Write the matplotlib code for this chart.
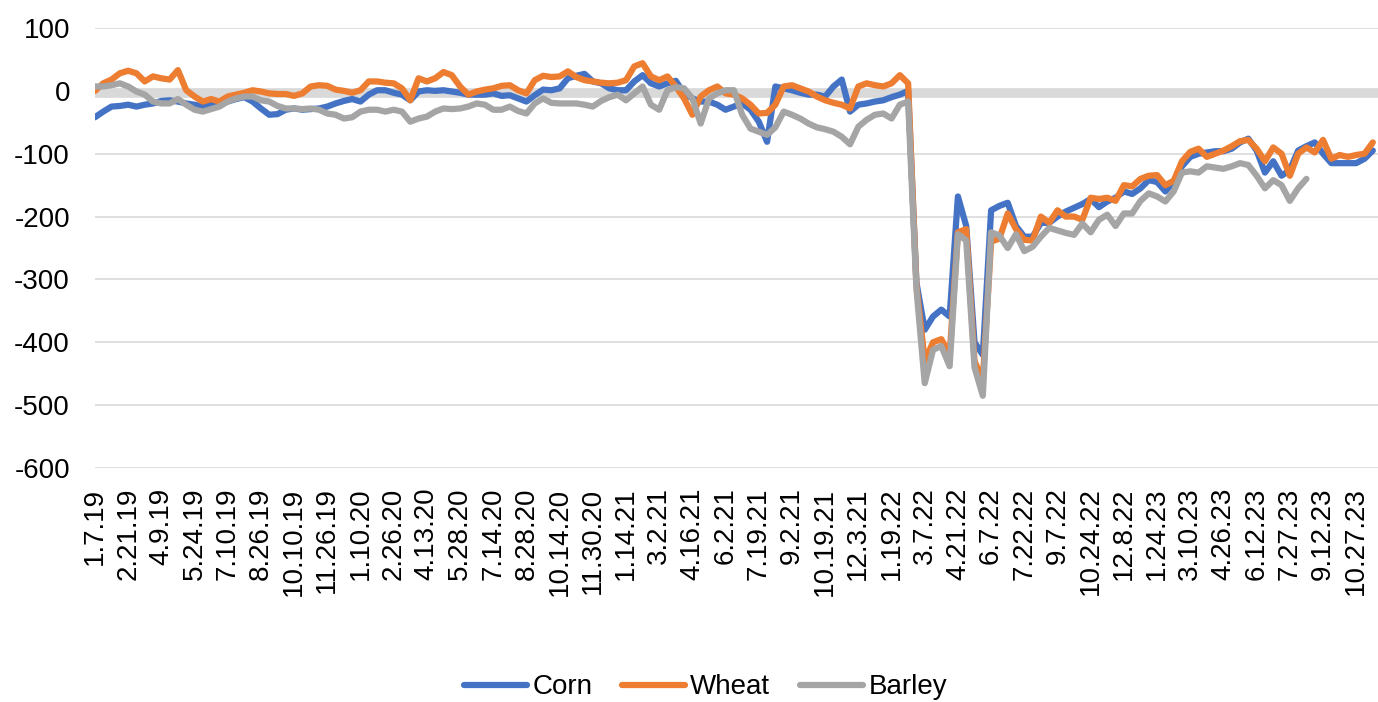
import numpy as np
import matplotlib
matplotlib.use("Agg")
import matplotlib.pyplot as plt

plt.rcParams['font.family'] = ['Liberation Sans', 'DejaVu Sans']

# x-axis date labels (one label every 32 trading days)
tick_labels = ["1.7.19", "2.21.19", "4.9.19", "5.24.19", "7.10.19", "8.26.19", "10.10.19",
               "11.26.19", "1.10.20", "2.26.20", "4.13.20", "5.28.20", "7.14.20", "8.28.20",
               "10.14.20", "11.30.20", "1.14.21", "3.2.21", "4.16.21", "6.2.21", "7.19.21",
               "9.2.21", "10.19.21", "12.3.21", "1.19.22", "3.7.22", "4.21.22", "6.7.22",
               "7.22.22", "9.7.22", "10.24.22", "12.8.22", "1.24.23", "3.10.23", "4.26.23",
               "6.12.23", "7.27.23", "9.12.23", "10.27.23"]
label_every = 32
sample_every = 8   # values read every 8 trading days
n_days = 1237

# values
corn = [-42, -33, -25, -24, -22, -25, -22, -20, -16, -15, -17, -20, -22, -25, -22,
        -20, -17, -13, -10, -17, -28, -38, -37, -30, -28, -30, -29, -28, -25, -20,
        -16, -13, -17, -6, 1, 1, -3, -6, -15, -1, 1, 0, 1, -1, -3, -6, -6, -6, -4,
        -8, -7, -12, -17, -7, 2, 1, 4, 20, 24, 27, 15, 12, 4, 1, 1, 15, 25, 12, 7,
        12, 16, -4, -12, -17, -17, -22, -30, -25, -20, -30, -49, -81, 7, 4, 1, -3, -6,
        -6, -9, 7, 18, -33, -22, -20, -17, -15, -10, -6, 0,
        -305, -380, -359, -348, -359, -168, -215, -400, -420, -190, -183,
        -178, -215, -232, -232, -210, -210, -200, -192, -186, -180, -172, -185, -176,
        -170, -160, -164, -155, -142, -145, -160, -145, -120, -105, -100, -98, -96,
        -96, -92, -82, -76, -95, -130, -112, -135, -126, -95, -88, -82, -100, -115,
        -115, -115, -115, -108, -95]

wheat = [0, 12, 18, 28, 32, 28, 15, 23, 20, 18, 33, 1, -9, -17, -13, -17, -9, -6, -3,
         1, -1, -4, -5, -5, -8, -4, 7, 9, 8, 2, 0, -3, 1, 15, 15, 13, 12, 4, -15, 20,
         15, 20, 30, 25, 7, -6, -1, 2, 4,
         8, 9, 1, -4, 17, 24, 22, 23, 31, 22, 17, 15, 13, 12, 13, 17, 39, 44, 23, 17,
         23, 7, -12, -38, -9, 1, 7, -4, -6, -12, -22, -36, -35, -22, 7, 9, 4, -1, -9,
         -15, -19, -22, -28, 7, 12, 9, 7, 12, 25, 12,
         -310, -430, -400, -395, -420, -225, -220, -430, -460, -240, -235,
         -195, -220, -237, -238, -200, -210, -190, -200, -200, -205, -170, -172, -170,
         -175, -150, -152, -140, -135, -134, -150, -143, -112, -97, -92, -105, -100,
         -95, -88, -80, -78, -92, -112, -90, -100, -135, -100, -90, -98, -78, -108,
         -102, -105, -102, -100, -82]

barley = [7, 7, 9, 12, 7, -1, -6, -17, -20, -20, -13, -22, -30, -33, -29, -25, -17,
          -12, -9, -9, -15, -17, -24, -28, -28, -29, -28, -30, -36, -38, -44, -42, -33,
          -30, -30, -33, -30, -33, -49, -44, -41, -33, -28, -29, -28, -25, -20, -22, -30,
          -30, -25, -32, -36, -20, -12, -19, -20, -20, -20, -22, -25, -16, -10, -6, -15,
          -4, 7, -22, -30, 1, 6, 4, -12, -52, -12, -4, 1, 1, -38, -60, -65, -70, -58,
          -33, -38, -44, -52, -58, -61, -65, -73, -85, -57, -46, -38, -36, -44, -22, -17,
          -315, -465, -412, -406, -438, -228, -238, -440, -485, -225, -230,
          -250, -228, -255, -248, -232, -218, -222, -226, -229, -211, -225, -205, -197,
          -215, -195, -195, -175, -163, -168, -176, -160, -130, -128, -130, -120, -122,
          -124, -120, -115, -118, -135, -155, -142, -150, -175, -155, -140]

y_ticks = [-600, -500, -400, -300, -200, -100, 0, 100]
y_tick_labels = ["-600", "-500", "-400", "-300", "-200", "-100", "0", "100"]

fig = plt.figure(figsize=(13.78, 7.02), dpi=100)
ax = fig.add_axes([0.0689, 0.3333, 0.9311, 0.6268])

# thick grey horizontal axis line near zero
ax.axhline(-4, color='#D9D9D9', linewidth=7, zorder=1)

series = [("Corn", corn, '#4472C4'), ("Wheat", wheat, '#ED7D31'), ("Barley", barley, '#A5A5A5')]
for name, vals, col in series:
    x = np.arange(len(vals)) * sample_every
    ax.plot(x, vals, color=col, linewidth=4.5, label=name, zorder=3,
            solid_joinstyle='round', solid_capstyle='round')

ax.set_ylim(-600, 100)
ax.set_xlim(0, n_days)
ax.set_yticks(y_ticks)
ax.set_yticklabels(y_tick_labels)
ax.set_xticks(np.arange(len(tick_labels)) * label_every)
ax.set_xticklabels(tick_labels, rotation=90)
ax.tick_params(axis='both', length=0, labelsize=20, colors='black')
ax.tick_params(axis='x', pad=14)
ax.tick_params(axis='y', pad=18)

ax.grid(axis='y', color='#D9D9D9', linewidth=1.2, zorder=0)
ax.set_axisbelow(True)
for s in ax.spines.values():
    s.set_visible(False)

fig.legend(loc='center', bbox_to_anchor=(0.512, 0.021), ncol=3, frameon=False,
           fontsize=20, handlelength=2.27, handletextpad=0.18, columnspacing=1.08,
           borderpad=0.1)

fig.savefig("out.png", dpi=100)
